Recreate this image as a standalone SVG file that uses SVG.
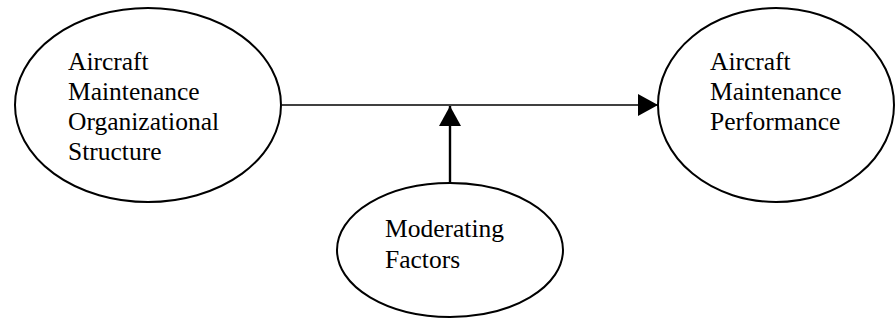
<svg xmlns="http://www.w3.org/2000/svg" width="896" height="320" viewBox="0 0 896 320">
<style>
.node ellipse{fill:#fff;stroke:#000;stroke-width:2}
.node text{font-family:"Liberation Serif","Times New Roman",serif;font-size:25.5px;fill:#000}
.conn line{stroke:#000}
</style>
<defs>
<marker id="ah" markerUnits="userSpaceOnUse" markerWidth="22" markerHeight="24" refX="20" refY="11" orient="auto">
<path d="M0,0 L20,11 L0,22 Z" fill="#000"/>
</marker>
</defs>
<rect width="896" height="320" fill="#fff"/>
<g id="connectors" class="conn">
<line x1="282" y1="105" x2="658" y2="105" stroke-width="1.6" marker-end="url(#ah)"/>
<line x1="450" y1="183" x2="450" y2="106" stroke-width="2.4" marker-end="url(#ah)"/>
</g>
<g id="node-structure" class="node">
<ellipse cx="148" cy="105" rx="133" ry="97"/>
<text x="68" y="70">Aircraft</text>
<text x="68" y="100">Maintenance</text>
<text x="68" y="130">Organizational</text>
<text x="68" y="160">Structure</text>
</g>
<g id="node-performance" class="node">
<ellipse cx="776" cy="105" rx="118" ry="97"/>
<text x="710" y="70">Aircraft</text>
<text x="710" y="100">Maintenance</text>
<text x="710" y="130">Performance</text>
</g>
<g id="node-moderating" class="node">
<ellipse cx="450" cy="250" rx="113" ry="67"/>
<text x="385" y="237">Moderating</text>
<text x="385" y="268">Factors</text>
</g>
</svg>
